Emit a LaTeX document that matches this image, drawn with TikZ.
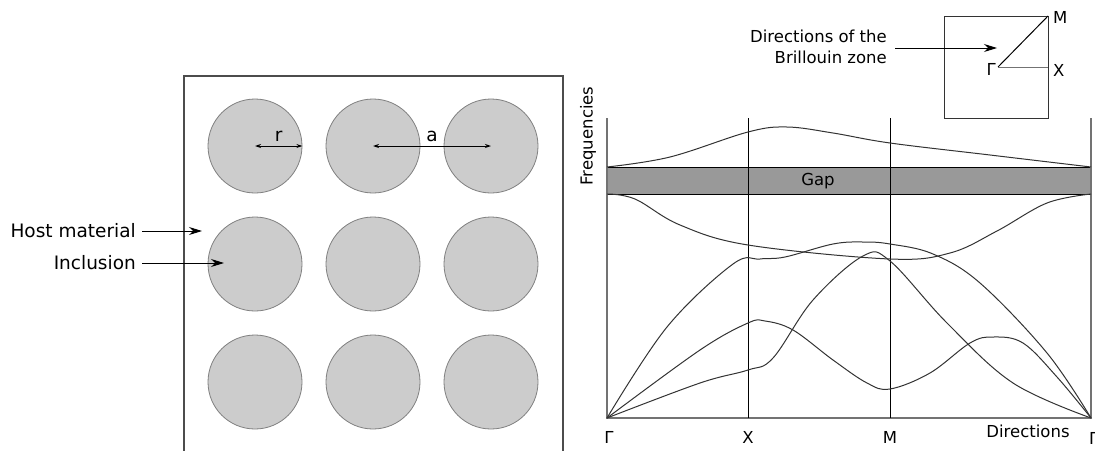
\documentclass[tikz,border=0pt]{standalone}
\usepackage{fontspec}
\setmainfont{DejaVu Sans}
\usetikzlibrary{arrows.meta}

\tikzset{
  incl/.style={circle, draw=black!50, fill=black!20, line width=0.8pt, minimum size=94pt, inner sep=0pt},
  lbl/.style={font=\fontsize{18.5}{22}\selectfont, inner sep=0pt},
  plbl/.style={font=\fontsize{16.5}{21}\selectfont, inner sep=0pt},
  band/.style={black!80, line width=1pt},
  bigarrow/.style={-{Stealth[length=13pt,width=8pt]}, line width=1pt},
  dimarrow/.style={{Stealth[length=6pt,width=4pt]}-{Stealth[length=6pt,width=4pt]}, line width=1pt},
}

\begin{document}
\begin{tikzpicture}[x=1pt,y=-1pt]
    \useasboundingbox (0,0) rectangle (1095,450);

    % Host material
    \draw[black!70, line width=1.3pt] (184,452) -- (184,76) -- (563,76) -- (563,452);

    % Inclusions
    \foreach \i/\y in {1/146,2/264,3/382}
        \foreach \j/\x in {1/255,2/373,3/491}
            \node[incl] (c\i\j) at (\x,\y) {};

    % Radius and lattice constant
    \draw[dimarrow] (c11.center) -- (c11.east) node[midway, above=4pt, lbl] (r) {r};
    \draw[dimarrow] (c12.center) -- (c13.center) node[midway, above=4pt, lbl] (a) {a};

    % Labels on the left
    \node[lbl, anchor=east] (host) at (136,231) {Host material};
    \coordinate (hostend) at (202,231);
    \draw[bigarrow, shorten <=6pt] (host) -- (hostend);
    \node[lbl, anchor=east] (inclusion) at (136,263) {Inclusion};
    \coordinate (inclend) at (224,263);
    \draw[bigarrow, shorten <=6pt] (inclusion) -- (inclend);

    % Gap
    \draw[fill=black!40, line width=1pt] (607,167) rectangle (1091,194);
    \node[plbl] (gap) at (818,181) {Gap};

    % Frame and directions
    \draw[black!55, line width=1.6pt] (607,118) -- (607,418) -- (1091,418) -- (1091,118);
    \draw[line width=1pt] (748,118) -- (748,418);
    \draw[line width=1pt] (890,118) -- (890,418);

    % Bands
    \draw[band] plot[smooth, tension=0.6] coordinates {(607,167) (670,157) (748,132) (787,127) (833,133) (890,143) (990,155) (1091,167)};
    \draw[band] plot[smooth, tension=0.6] coordinates {(607,194) (635,199) (680,225) (748,245) (890,259) (950,253) (997,231) (1047,203) (1091,194)};
    \draw[band] plot[smooth, tension=0.6] coordinates {(607,418) (667,327) (733,264) (760,259) (785,257) (833,244) (863,242) (890,244) (933,254) (980,283) (1047,353) (1091,418)};
    \draw[band] plot[smooth, tension=0.6] coordinates {(607,418) (700,383) (748,370) (773,358) (813,300) (863,256) (890,261) (947,323) (1013,383) (1091,418)};
    \draw[band] plot[smooth, tension=0.6] coordinates {(607,418) (700,350) (748,323) (765,321) (793,330) (833,360) (867,383) (890,389) (930,373) (970,343) (993,337) (1023,343) (1057,377) (1091,418)};

    % Axis labels
    \node[plbl, rotate=90] (freq) at (588,136) {Frequencies};
    \node[plbl] (g1) at (609,437) {Γ};
    \node[plbl] (x1) at (748,437) {X};
    \node[plbl] (m1) at (890,437) {M};
    \node[plbl] (dirs) at (1028,431) {Directions};
    \node[plbl, anchor=west] (g2) at (1089,438) {Γ};

    % Brillouin zone
    \draw[black!80, line width=1pt] (944,16) rectangle (1048,118);
    \coordinate (G) at (998,67);
    \coordinate (Mpt) at (1048,16);
    \coordinate (Xpt) at (1048,67);
    \draw[line width=1pt] (G) -- (Mpt);
    \draw[black!55, line width=1pt] (G) -- (Xpt);
    \node[plbl, anchor=east] (glbl) at (996,69) {Γ};
    \node[plbl, anchor=west] (mlbl) at (1053,17) {M};
    \node[plbl, anchor=west] (xlbl) at (1053,70) {X};

    \node[plbl, anchor=east, align=right] (bz) at (887,47) {Directions of the\\Brillouin zone};
    \coordinate (bzend) at (997,48);
    \draw[bigarrow, shorten <=8pt] (bz.east |- bzend) -- (bzend);
\end{tikzpicture}
\end{document}
